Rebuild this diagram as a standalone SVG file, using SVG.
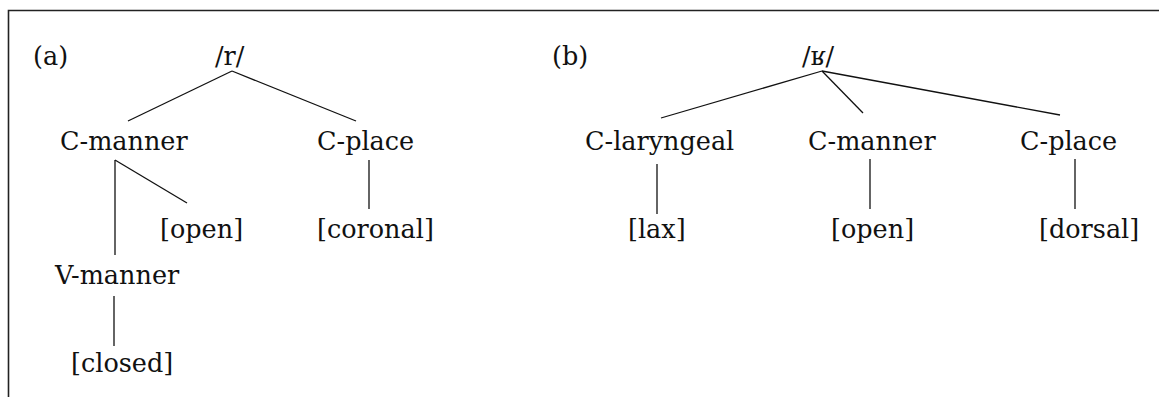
<svg xmlns="http://www.w3.org/2000/svg" width="1159" height="397" viewBox="0 0 1159 397">
<style>
text{font-family:"DejaVu Serif","Liberation Serif",serif;font-size:25.5px;fill:#111}
.e{stroke:#111;stroke-width:1.3;fill:none}
.frame{stroke:#222;stroke-width:1.6;fill:none}
</style>
<rect width="1159" height="397" fill="#fff"/>
<path class="frame" d="M8.5,397 V10.5 H1159"/>
<g id="label-a"><text x="33" y="65">(a)</text></g>
<g id="label-b"><text x="552" y="65">(b)</text></g>
<g id="a-root"><text x="215" y="65">/r/</text></g>
<g id="a-cmanner"><text x="60" y="150">C-manner</text></g>
<g id="a-cplace"><text x="317" y="150">C-place</text></g>
<g id="a-open"><text x="160" y="238">[open]</text></g>
<g id="a-coronal"><text x="317" y="238">[coronal]</text></g>
<g id="a-vmanner"><text x="55" y="284">V-manner</text></g>
<g id="a-closed"><text x="71" y="372">[closed]</text></g>
<g id="b-root"><text x="802" y="65">/ʁ/</text></g>
<g id="b-claryngeal"><text x="585" y="150">C-laryngeal</text></g>
<g id="b-cmanner"><text x="808" y="150">C-manner</text></g>
<g id="b-cplace"><text x="1020" y="150">C-place</text></g>
<g id="b-lax"><text x="628" y="238">[lax]</text></g>
<g id="b-open"><text x="831" y="238">[open]</text></g>
<g id="b-dorsal"><text x="1039" y="238">[dorsal]</text></g>
<g id="connectors" class="e">
<line x1="232" y1="71" x2="128" y2="121"/>
<line x1="232" y1="71" x2="356" y2="121"/>
<line x1="115" y1="160" x2="115" y2="255"/>
<line x1="115" y1="160" x2="187" y2="203"/>
<line x1="369" y1="160" x2="369" y2="209"/>
<line x1="114" y1="296" x2="114" y2="346"/>
<line x1="822" y1="71" x2="661" y2="118"/>
<line x1="822" y1="71" x2="863" y2="113"/>
<line x1="822" y1="71" x2="1060" y2="115"/>
<line x1="657" y1="164" x2="657" y2="214"/>
<line x1="870" y1="159" x2="870" y2="209"/>
<line x1="1075" y1="159" x2="1075" y2="209"/>
</g>
</svg>
